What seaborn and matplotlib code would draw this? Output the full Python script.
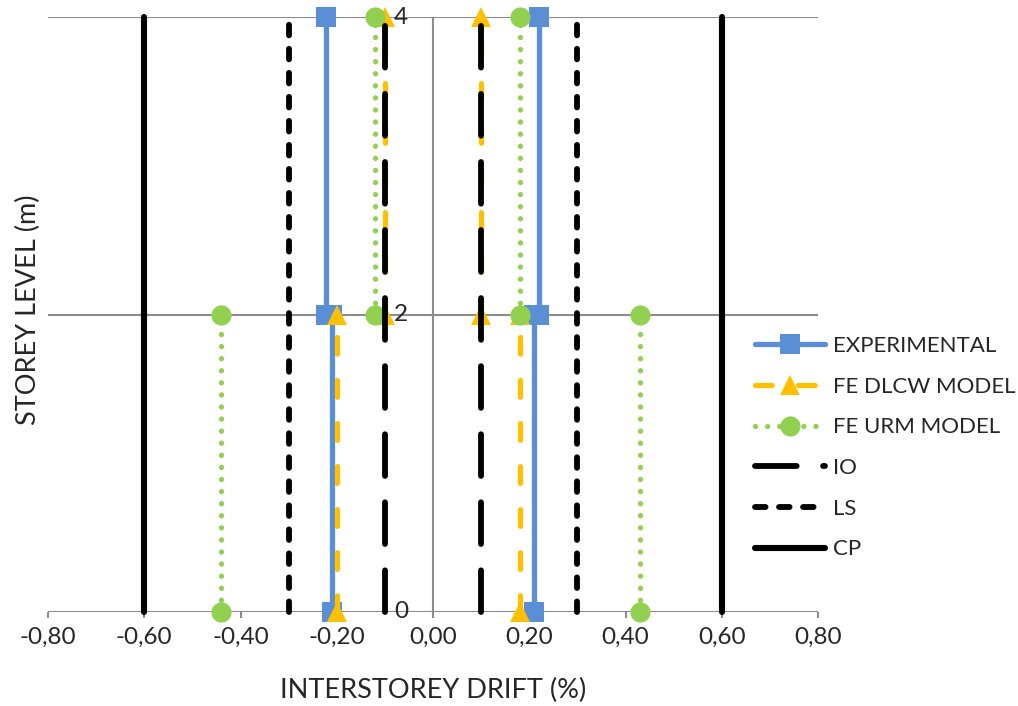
import numpy as np
import pandas as pd
import matplotlib
matplotlib.use("Agg")
import matplotlib.pyplot as plt
import seaborn as sns
from matplotlib.lines import Line2D

# ---------------- data ----------------
storey_bottom = [0, 2]
storey_top = [2, 4]
exp_left = [-0.21, -0.222]
exp_right = [0.21, 0.22]
dlcw_left = [-0.20, -0.10]
dlcw_right = [0.18, 0.10]
urm_left = [-0.44, -0.12]
urm_right = [0.43, 0.18]
io_limit = 0.10
ls_limit = 0.30
cp_limit = 0.60
series_names = ["EXPERIMENTAL", "FE DLCW MODEL", "FE URM MODEL", "IO", "LS", "CP"]
xtick_values = [-0.8, -0.6, -0.4, -0.2, 0.0, 0.2, 0.4, 0.6, 0.8]
xtick_labels = ["-0,80", "-0,60", "-0,40", "-0,20", "0,00", "0,20", "0,40", "0,60", "0,80"]
ytick_values = [0, 2, 4]
ytick_labels = ["0", "2", "4"]

# ---------------- build tidy table ----------------
rows = []
uid = 0
model_series = {
    "EXPERIMENTAL": (exp_left, exp_right),
    "FE DLCW MODEL": (dlcw_left, dlcw_right),
    "FE URM MODEL": (urm_left, urm_right),
}
for name, (left, right) in model_series.items():
    for side in (left, right):
        for xv, yb, yt in zip(side, storey_bottom, storey_top):
            rows.append(dict(series=name, unit=uid, x=xv, y=yb))
            rows.append(dict(series=name, unit=uid, x=xv, y=yt))
            uid += 1
limits = {"IO": io_limit, "LS": ls_limit, "CP": cp_limit}
for name, lim in limits.items():
    for xv in (-lim, lim):
        rows.append(dict(series=name, unit=uid, x=xv, y=ytick_values[0]))
        rows.append(dict(series=name, unit=uid, x=xv, y=ytick_values[-1]))
        uid += 1
df = pd.DataFrame(rows)

# ---------------- style ----------------
sns.set_theme(style="white")
plt.rcParams["font.family"] = ["Lato", "DejaVu Sans"]
plt.rcParams["lines.scale_dashes"] = False

styles = {
    "EXPERIMENTAL": dict(color="#5B8FD5", marker="s", markersize=14, linewidth=3.8,
                         linestyle="-", zorder=3),
    "FE DLCW MODEL": dict(color="#FFC000", marker="^", markersize=14, linewidth=3.8,
                          linestyle=(0, (12, 19)), dash_capstyle="round", zorder=4),
    "FE URM MODEL": dict(color="#92D050", marker="o", markersize=14.5, linewidth=3.8,
                         linestyle=(0, (0.1, 8.6)), dash_capstyle="round", zorder=5),
    "IO": dict(color="black", marker=None, linewidth=4.2,
               linestyle=(0, (30, 19)), dash_capstyle="round", zorder=6),
    "LS": dict(color="black", marker=None, linewidth=4.2,
               linestyle=(0, (7.6, 9.7)), dash_capstyle="round", zorder=7),
    "CP": dict(color="black", marker=None, linewidth=4.4,
               linestyle="-", zorder=8),
}

fig = plt.figure(figsize=(10.18, 7.06), dpi=100)
ax = fig.add_axes([48 / 1018, 1 - 612 / 706, 770 / 1018, 595 / 706])

grid_color = "#8C8C8C"
for yv in ytick_values:
    ax.axhline(yv, color=grid_color, lw=1.5, zorder=1)
ax.axvline(0, color=grid_color, lw=1.5, zorder=1)

for name in series_names:
    st = dict(styles[name])
    z = st.pop("zorder")
    sub = df[df["series"] == name]
    sns.lineplot(data=sub, x="x", y="y", units="unit", estimator=None, sort=False,
                 ax=ax, legend=False, markeredgewidth=0, clip_on=False, **st)
    for ln in ax.get_lines()[-len(sub["unit"].unique()):]:
        ln.set_zorder(z)

ax.set_xlim(xtick_values[0], xtick_values[-1])
ax.set_ylim(ytick_values[0], ytick_values[-1])
for sp in ax.spines.values():
    sp.set_visible(False)

tick_fs = 17.5
ax.set_xticks(xtick_values)
ax.set_xticklabels(xtick_labels)
ax.tick_params(axis="x", direction="out", length=4.5, width=1.5, color=grid_color,
               labelsize=tick_fs, pad=6, bottom=True)
ax.set_yticks([])
for yv, lab in zip(ytick_values, ytick_labels):
    ax.annotate(lab, xy=(0, yv), xytext=(-18, 0), textcoords="offset points",
                ha="right", va="center", fontsize=tick_fs, zorder=10,
                annotation_clip=False)

ax.set_xlabel("INTERSTOREY DRIFT (%)", fontsize=19.5, va="center")
ax.xaxis.set_label_coords(0.5, -(690 - 612) / 595)
ax.set_ylabel("STOREY LEVEL (m)", fontsize=19.5, va="center")
ax.yaxis.set_label_coords(-(48 - 28) / 770, (612 - 310) / 595)

handles = []
for name in series_names:
    st = dict(styles[name])
    st.pop("zorder")
    handles.append(Line2D([], [], markeredgewidth=0, **st))
leg_fs = 16
fig.legend(handles, series_names, loc="upper left",
           bbox_to_anchor=(755 / 1018, 1 - 336 / 706), frameon=False,
           fontsize=leg_fs, handlelength=3.15, handletextpad=0.36, labelspacing=0.93,
           borderpad=0, borderaxespad=0, numpoints=1)

fig.savefig("out.png", dpi=100, facecolor="white")
